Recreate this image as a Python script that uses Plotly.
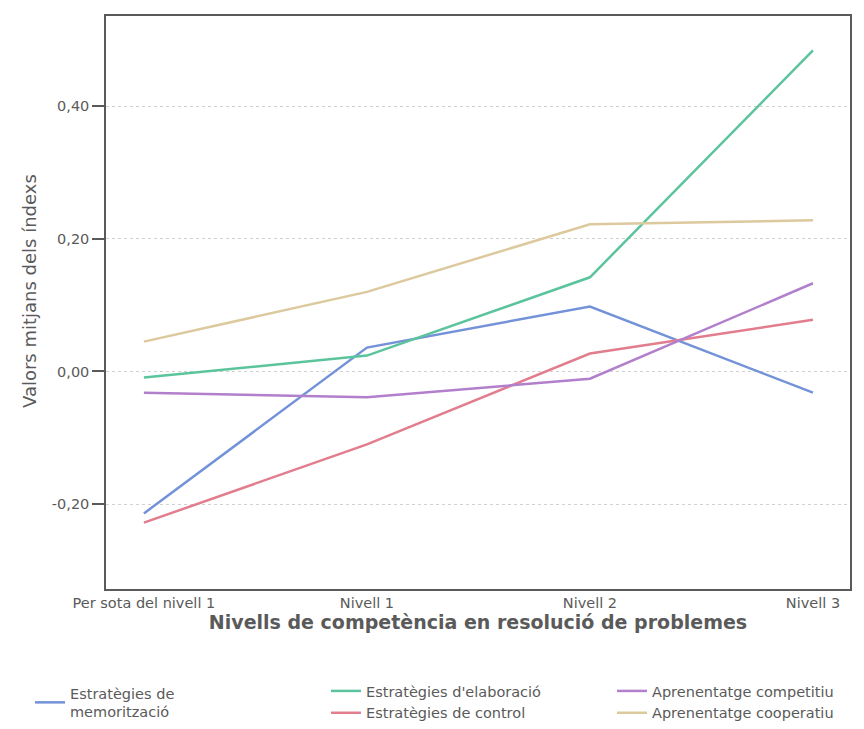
import plotly.graph_objects as go

categories = ["Per sota del nivell 1", "Nivell 1", "Nivell 2", "Nivell 3"]
memoritzacio = [-0.214, 0.036, 0.098, -0.032]
elaboracio = [-0.009, 0.024, 0.142, 0.484]
control = [-0.228, -0.110, 0.027, 0.078]
competitiu = [-0.032, -0.039, -0.011, 0.133]
cooperatiu = [0.045, 0.120, 0.222, 0.228]
y_ticks = [-0.2, 0.0, 0.2, 0.4]
y_tick_labels = ["-0,20", "0,00", "0,20", "0,40"]

series = [
    ("Estratègies de<br>memorització", memoritzacio, "#7392d8", "legend"),
    ("Estratègies d'elaboració", elaboracio, "#5cc49c", "legend2"),
    ("Estratègies de control", control, "#e27d8e", "legend2"),
    ("Aprenentatge competitiu", competitiu, "#b17fcb", "legend3"),
    ("Aprenentatge cooperatiu", cooperatiu, "#dcc99e", "legend3"),
]

fig = go.Figure()
for name, vals, color, lg in series:
    fig.add_trace(go.Scatter(
        x=list(range(len(categories))), y=vals, mode="lines", name=name,
        line=dict(color=color, width=2.5), legend=lg,
    ))

font_main = "DejaVu Sans, Verdana, sans-serif"
text_col = "#5a5a5a"
legend_common = dict(
    orientation="v", xref="container", yref="container",
    xanchor="left", yanchor="top", bgcolor="rgba(0,0,0,0)",
    font=dict(family=font_main, size=14.5, color=text_col),
    tracegroupgap=0, itemclick=False,
)

fig.update_layout(
    width=864, height=729,
    margin=dict(l=98, r=22, t=8, b=148, autoexpand=False),
    paper_bgcolor="white", plot_bgcolor="white",
    font=dict(family=font_main, color=text_col),
    xaxis=dict(
        tickmode="array", tickvals=list(range(len(categories))), ticktext=categories,
        range=[-0.17, 3.166], showgrid=False, zeroline=False, automargin=False,
        showline=True, linecolor="#5a5a5a", linewidth=1.5, mirror=True,
        ticks="", tickangle=0, tickfont=dict(size=14.5, color=text_col),
        title=dict(text="<b>Nivells de competència en resolució de problemes</b>",
                   font=dict(size=19, color=text_col), standoff=5),
    ),
    yaxis=dict(
        tickmode="array", tickvals=y_ticks, ticktext=y_tick_labels,
        range=[-0.328, 0.536], showgrid=True, gridcolor="#d0d0d0", griddash="dot",
        gridwidth=1, zeroline=False, automargin=False,
        showline=True, linecolor="#5a5a5a", linewidth=1.5, mirror=True,
        ticks="outside", ticklen=12, tickcolor="#5a5a5a", tickwidth=1.5,
        tickfont=dict(size=14.5, color=text_col),
    ),
    annotations=[dict(
        text="Valors mitjans dels índexs", textangle=-90,
        xref="paper", yref="paper", x=(28 - 105) / 744, y=(588 - 290) / 573,
        xanchor="center", yanchor="middle", showarrow=False,
        font=dict(family=font_main, size=18, color=text_col),
    )],
    legend=dict(x=22 / 864, y=1 - 669 / 729, **legend_common),
    legend2=dict(x=318 / 864, y=1 - 667 / 729, **legend_common),
    legend3=dict(x=604 / 864, y=1 - 667 / 729, **legend_common),
    showlegend=True,
)

fig.write_html("out.html")
